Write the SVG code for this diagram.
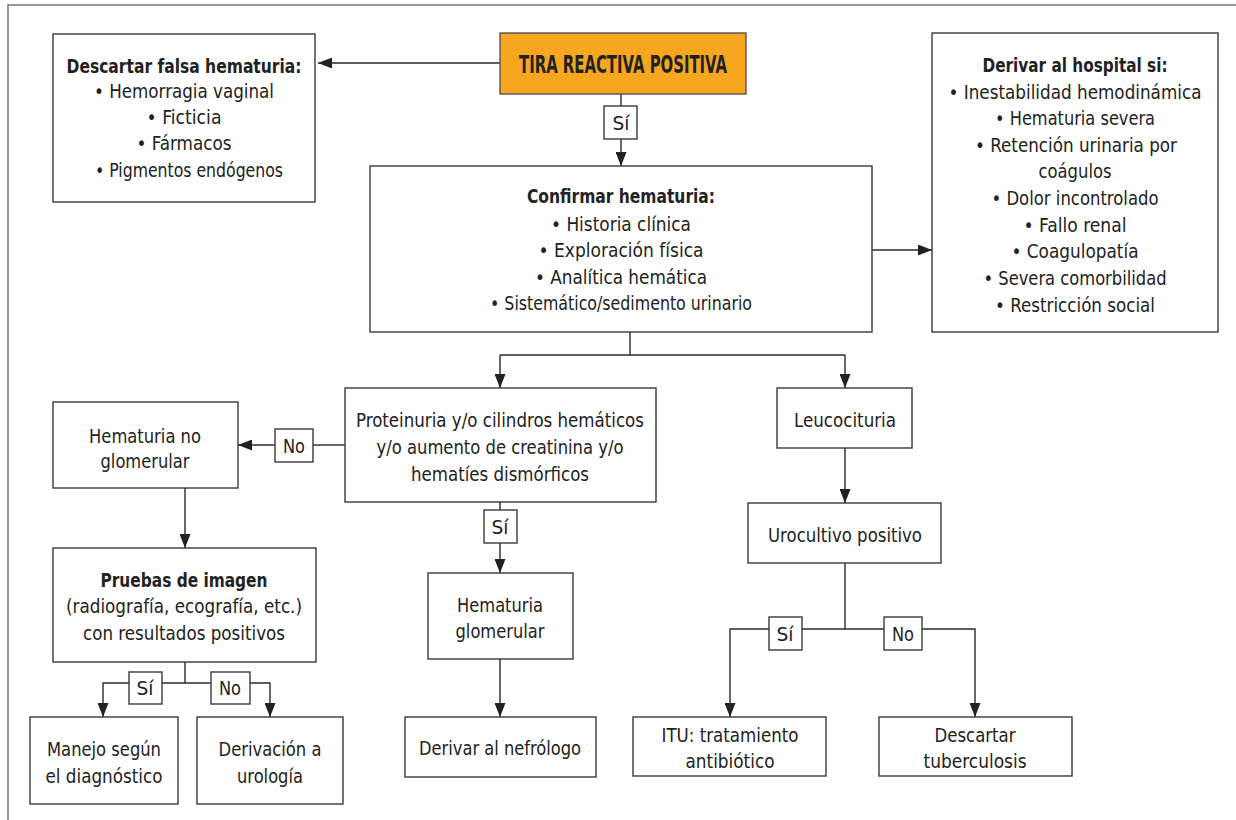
<svg xmlns="http://www.w3.org/2000/svg" width="1236" height="820" viewBox="0 0 1236 820">
<defs>
<style>
.box{fill:#fff;stroke:#3a3a3a;stroke-width:1.4}
.t{font-family:"DejaVu Sans Condensed","Liberation Sans",sans-serif;font-stretch:condensed;font-size:20px;fill:#222;text-anchor:middle}
.b{font-weight:bold}
.c{fill:none;stroke:#2a2a2a;stroke-width:1.4}
</style>
<marker id="ah" markerUnits="userSpaceOnUse" markerWidth="14" markerHeight="11" refX="14" refY="5.5" orient="auto">
<path d="M0,0 L14,5.5 L0,11 z" fill="#222"/>
</marker>
</defs>
<rect width="1236" height="820" fill="#fff"/>
<polyline points="8,820 8,5 1236,5" fill="none" stroke="#777" stroke-width="1.5"/>

<g id="connectors">
<line class="c" x1="500" y1="63" x2="318" y2="63" marker-end="url(#ah)"/>
<line class="c" x1="621" y1="94" x2="621" y2="106"/>
<line class="c" x1="621" y1="139" x2="621" y2="166" marker-end="url(#ah)"/>
<line class="c" x1="872" y1="250" x2="932" y2="250" marker-end="url(#ah)"/>
<polyline class="c" points="630,332 630,355"/>
<line class="c" x1="500" y1="355" x2="845" y2="355"/>
<line class="c" x1="500" y1="355" x2="500" y2="388" marker-end="url(#ah)"/>
<line class="c" x1="845" y1="355" x2="845" y2="388" marker-end="url(#ah)"/>
<line class="c" x1="345" y1="445" x2="313" y2="445"/>
<line class="c" x1="275" y1="445" x2="238" y2="445" marker-end="url(#ah)"/>
<line class="c" x1="185" y1="488" x2="185" y2="548" marker-end="url(#ah)"/>
<line class="c" x1="185" y1="662" x2="185" y2="683"/>
<polyline class="c" points="129,683 103,683 103,717" marker-end="url(#ah)"/>
<line class="c" x1="162" y1="683" x2="211" y2="683"/>
<polyline class="c" points="250,683 270,683 270,717" marker-end="url(#ah)"/>
<line class="c" x1="500" y1="502" x2="500" y2="510"/>
<line class="c" x1="500" y1="543" x2="500" y2="573" marker-end="url(#ah)"/>
<line class="c" x1="500" y1="659" x2="500" y2="717" marker-end="url(#ah)"/>
<line class="c" x1="845" y1="448" x2="845" y2="503" marker-end="url(#ah)"/>
<line class="c" x1="845" y1="563" x2="845" y2="629"/>
<polyline class="c" points="769,629 730,629 730,717" marker-end="url(#ah)"/>
<line class="c" x1="802" y1="629" x2="884" y2="629"/>
<polyline class="c" points="922,629 975,629 975,717" marker-end="url(#ah)"/>
</g>

<g id="lbl-si1"><rect class="box" x="604" y="106" width="33" height="33"/><text class="t" x="621" y="130" textLength="17" lengthAdjust="spacingAndGlyphs">Sí</text></g>
<g id="lbl-si2"><rect class="box" x="484" y="510" width="33" height="33"/><text class="t" x="500" y="534" textLength="17" lengthAdjust="spacingAndGlyphs">Sí</text></g>
<g id="lbl-no1"><rect class="box" x="275" y="429" width="38" height="33"/><text class="t" x="294" y="453" textLength="22" lengthAdjust="spacingAndGlyphs">No</text></g>
<g id="lbl-si3"><rect class="box" x="129" y="672" width="33" height="32"/><text class="t" x="145" y="695" textLength="17" lengthAdjust="spacingAndGlyphs">Sí</text></g>
<g id="lbl-no2"><rect class="box" x="211" y="672" width="39" height="32"/><text class="t" x="230" y="695" textLength="22" lengthAdjust="spacingAndGlyphs">No</text></g>
<g id="lbl-si4"><rect class="box" x="769" y="617" width="33" height="33"/><text class="t" x="785" y="641" textLength="17" lengthAdjust="spacingAndGlyphs">Sí</text></g>
<g id="lbl-no3"><rect class="box" x="884" y="617" width="38" height="33"/><text class="t" x="903" y="641" textLength="22" lengthAdjust="spacingAndGlyphs">No</text></g>

<g id="descartar">
<rect class="box" x="53" y="34" width="262" height="168"/>
<text class="t b" x="184" y="73" textLength="235" lengthAdjust="spacingAndGlyphs">Descartar falsa hematuria:</text>
<text class="t" x="184" y="98" textLength="180" lengthAdjust="spacingAndGlyphs">• Hemorragia vaginal</text>
<text class="t" x="184" y="124" textLength="75" lengthAdjust="spacingAndGlyphs">• Ficticia</text>
<text class="t" x="184" y="150" textLength="95" lengthAdjust="spacingAndGlyphs">• Fármacos</text>
<text class="t" x="189" y="177" textLength="188" lengthAdjust="spacingAndGlyphs">• Pigmentos endógenos</text>
</g>

<g id="tira">
<rect x="500" y="33" width="246" height="61" fill="#F6A71F" stroke="#555" stroke-width="1.4"/>
<text class="t b" x="623" y="73" style="font-size:24px" textLength="208" lengthAdjust="spacingAndGlyphs">TIRA REACTIVA POSITIVA</text>
</g>

<g id="confirmar">
<rect class="box" x="370" y="166" width="502" height="166"/>
<text class="t b" x="621" y="203" textLength="188" lengthAdjust="spacingAndGlyphs">Confirmar hematuria:</text>
<text class="t" x="621" y="231" textLength="140" lengthAdjust="spacingAndGlyphs">• Historia clínica</text>
<text class="t" x="621" y="257" textLength="165" lengthAdjust="spacingAndGlyphs">• Exploración física</text>
<text class="t" x="621" y="284" textLength="172" lengthAdjust="spacingAndGlyphs">• Analítica hemática</text>
<text class="t" x="621" y="310" textLength="262" lengthAdjust="spacingAndGlyphs">• Sistemático/sedimento urinario</text>
</g>

<g id="derivar-hospital">
<rect class="box" x="932" y="33" width="286" height="299"/>
<text class="t b" x="1075" y="72" textLength="185" lengthAdjust="spacingAndGlyphs">Derivar al hospital si:</text>
<text class="t" x="1075" y="99" textLength="253" lengthAdjust="spacingAndGlyphs">• Inestabilidad hemodinámica</text>
<text class="t" x="1075" y="125" textLength="160" lengthAdjust="spacingAndGlyphs">• Hematuria severa</text>
<text class="t" x="1076" y="152" textLength="202" lengthAdjust="spacingAndGlyphs">• Retención urinaria por</text>
<text class="t" x="1075" y="178" textLength="73" lengthAdjust="spacingAndGlyphs">coágulos</text>
<text class="t" x="1075" y="205" textLength="167" lengthAdjust="spacingAndGlyphs">• Dolor incontrolado</text>
<text class="t" x="1075" y="232" textLength="103" lengthAdjust="spacingAndGlyphs">• Fallo renal</text>
<text class="t" x="1075" y="258" textLength="127" lengthAdjust="spacingAndGlyphs">• Coagulopatía</text>
<text class="t" x="1075" y="285" textLength="183" lengthAdjust="spacingAndGlyphs">• Severa comorbilidad</text>
<text class="t" x="1075" y="312" textLength="160" lengthAdjust="spacingAndGlyphs">• Restricción social</text>
</g>

<g id="proteinuria">
<rect class="box" x="345" y="388" width="311" height="114"/>
<text class="t" x="500" y="427" textLength="288" lengthAdjust="spacingAndGlyphs">Proteinuria y/o cilindros hemáticos</text>
<text class="t" x="500" y="454" textLength="247" lengthAdjust="spacingAndGlyphs">y/o aumento de creatinina y/o</text>
<text class="t" x="500" y="481" textLength="178" lengthAdjust="spacingAndGlyphs">hematíes dismórficos</text>
</g>

<g id="hem-no-glom">
<rect class="box" x="53" y="402" width="185" height="86"/>
<text class="t" x="145" y="443" textLength="112" lengthAdjust="spacingAndGlyphs">Hematuria no</text>
<text class="t" x="145" y="468" textLength="89" lengthAdjust="spacingAndGlyphs">glomerular</text>
</g>

<g id="pruebas">
<rect class="box" x="53" y="548" width="263" height="114"/>
<text class="t b" x="184" y="587" textLength="167" lengthAdjust="spacingAndGlyphs">Pruebas de imagen</text>
<text class="t" x="184" y="613" textLength="236" lengthAdjust="spacingAndGlyphs">(radiografía, ecografía, etc.)</text>
<text class="t" x="184" y="640" textLength="202" lengthAdjust="spacingAndGlyphs">con resultados positivos</text>
</g>

<g id="manejo">
<rect class="box" x="30" y="717" width="148" height="87"/>
<text class="t" x="104" y="756" textLength="114" lengthAdjust="spacingAndGlyphs">Manejo según</text>
<text class="t" x="104" y="783" textLength="117" lengthAdjust="spacingAndGlyphs">el diagnóstico</text>
</g>

<g id="derivacion-urologia">
<rect class="box" x="197" y="717" width="146" height="87"/>
<text class="t" x="270" y="756" textLength="103" lengthAdjust="spacingAndGlyphs">Derivación a</text>
<text class="t" x="270" y="783" textLength="66" lengthAdjust="spacingAndGlyphs">urología</text>
</g>

<g id="hem-glom">
<rect class="box" x="428" y="573" width="145" height="86"/>
<text class="t" x="500" y="612" textLength="86" lengthAdjust="spacingAndGlyphs">Hematuria</text>
<text class="t" x="500" y="638" textLength="89" lengthAdjust="spacingAndGlyphs">glomerular</text>
</g>

<g id="nefrologo">
<rect class="box" x="405" y="717" width="191" height="60"/>
<text class="t" x="500" y="755" textLength="162" lengthAdjust="spacingAndGlyphs">Derivar al nefrólogo</text>
</g>

<g id="leucocituria">
<rect class="box" x="777" y="388" width="135" height="60"/>
<text class="t" x="845" y="427" textLength="102" lengthAdjust="spacingAndGlyphs">Leucocituria</text>
</g>

<g id="urocultivo">
<rect class="box" x="748" y="503" width="193" height="60"/>
<text class="t" x="845" y="542" textLength="154" lengthAdjust="spacingAndGlyphs">Urocultivo positivo</text>
</g>

<g id="itu">
<rect class="box" x="633" y="717" width="193" height="59"/>
<text class="t" x="730" y="742" textLength="137" lengthAdjust="spacingAndGlyphs">ITU: tratamiento</text>
<text class="t" x="730" y="768" textLength="89" lengthAdjust="spacingAndGlyphs">antibiótico</text>
</g>

<g id="tuberculosis">
<rect class="box" x="879" y="717" width="193" height="59"/>
<text class="t" x="975" y="742" textLength="81" lengthAdjust="spacingAndGlyphs">Descartar</text>
<text class="t" x="975" y="768" textLength="103" lengthAdjust="spacingAndGlyphs">tuberculosis</text>
</g>
</svg>
